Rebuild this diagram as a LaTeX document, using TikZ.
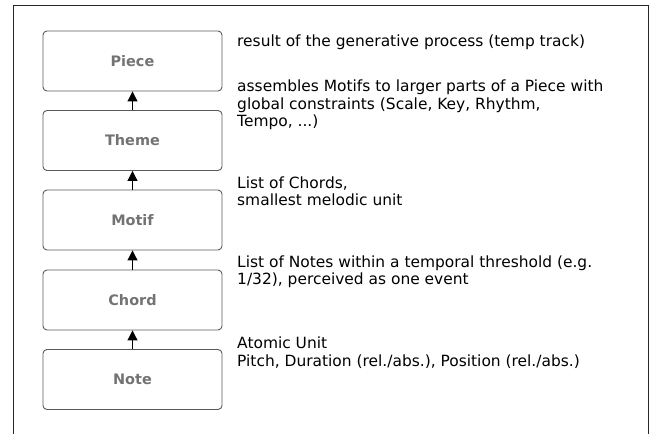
\documentclass[tikz,border=0pt]{standalone}
\usepackage{fontspec}
\setmainfont{DejaVu Sans}
\usetikzlibrary{arrows.meta}
\definecolor{boxline}{HTML}{5A5A5A}
\definecolor{labelgray}{HTML}{737373}
\tikzset{
  level/.style={draw=boxline, line width=0.9bp, rounded corners=4bp,
    minimum width=179bp, minimum height=60bp, inner sep=0pt,
    font=\fontsize{14.5}{16}\selectfont\bfseries, text=labelgray},
  desc/.style={anchor=base west, align=left, inner sep=0pt,
    font=\fontsize{15.5}{18}\selectfont, text=black},
  up/.style={-{Triangle[width=10bp,length=10bp]}, line width=1bp, black}
}
\begin{document}
\begin{tikzpicture}[x=1bp,y=-1bp]
\useasboundingbox (0,0) rectangle (652,434);
\draw[line width=0.9bp, black!85] (13,434) -- (13,5) -- (648,5) -- (648,434);
\node[level] (piece) at (132.5,61) {Piece};
\node[level] (theme) at (132.5,140.5) {Theme};
\node[level] (motif) at (132.5,220) {Motif};
\node[level] (chord) at (132.5,300) {Chord};
\node[level] (note)  at (132.5,379.5) {Note};
\draw[up] (theme.north) -- (piece.south);
\draw[up] (motif.north) -- (theme.south);
\draw[up] (chord.north) -- (motif.south);
\draw[up] (note.north) -- (chord.south);
\node[desc] (dpiece) at (237,47) {result of the generative process (temp track)};
\node[desc] (dtheme) at (237,127) {assembles Motifs to larger parts of a Piece with\\global constraints (Scale, Key, Rhythm,\\Tempo, ...)};
\node[desc] (dmotif) at (237,206) {List of Chords,\\smallest melodic unit};
\node[desc] (dchord) at (237,285) {List of Notes within a temporal threshold (e.g.\\1/32), perceived as one event};
\node[desc] (dnote) at (237,366) {Atomic Unit\\Pitch, Duration (rel./abs.), Position (rel./abs.)};
\end{tikzpicture}
\end{document}
